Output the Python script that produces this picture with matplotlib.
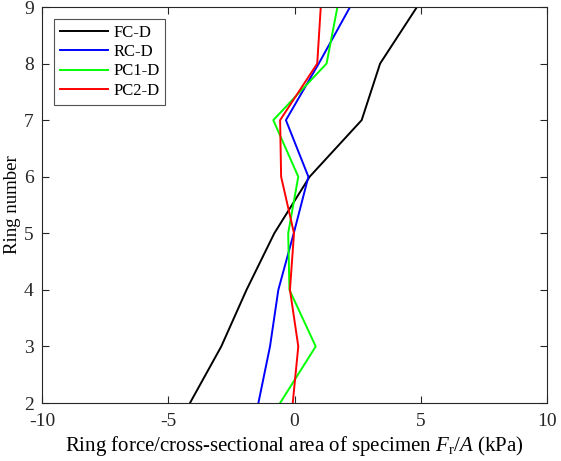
import matplotlib
matplotlib.use("Agg")
import matplotlib.pyplot as plt

plt.rcParams['font.family'] = ['Liberation Serif', 'DejaVu Serif']
plt.rcParams['mathtext.fontset'] = 'custom'
plt.rcParams['mathtext.rm'] = 'Liberation Serif'
plt.rcParams['mathtext.it'] = 'Liberation Serif:italic'
plt.rcParams['axes.unicode_minus'] = False

rings = [2, 3, 4, 5, 6, 7, 8, 9]
fc_d = [-4.14, -2.9, -1.9, -0.8, 0.6, 2.66, 3.39, 4.85]
rc_d = [-1.43, -0.97, -0.64, -0.03, 0.55, -0.34, 0.96, 2.2]
pc1_d = [-0.57, 0.84, -0.2, -0.25, 0.15, -0.84, 1.27, 1.7]
pc2_d = [-0.07, 0.15, -0.18, -0.02, -0.53, -0.57, 0.9, 1.04]

series = [("FC-D", fc_d, "black"), ("RC-D", rc_d, "#0000ff"),
          ("PC1-D", pc1_d, "#00ff00"), ("PC2-D", pc2_d, "#ff0000")]

fig = plt.figure(figsize=(5.61, 4.61), dpi=100)
ax = fig.add_axes([42/561, 1-403/461, (547-42)/561, (403-7)/461])
for name, vals, c in series:
    ax.plot(vals, rings, color=c, lw=1.4, label=name)

ax.set_xlim(-10, 10)
ax.set_ylim(2, 9)
ax.set_xticks([-10, -5, 0, 5, 10])
ax.set_yticks(range(2, 10))
ax.tick_params(direction='in', top=True, right=True, labelsize=14, length=5,
               width=0.8, colors='#262626')
ax.tick_params(axis='x', pad=7)
ax.tick_params(axis='y', pad=6)
for s in ax.spines.values():
    s.set_color('#262626')
    s.set_linewidth(0.8)
ax.set_xlabel(r"Ring force/cross-sectional area of specimen $F_\mathrm{r}/A$ (kPa)",
              fontsize=15, labelpad=3)
ax.set_ylabel("Ring number", fontsize=13.5)
ax.yaxis.set_label_coords(-21/505, 0.5)
leg = ax.legend(loc='upper left', bbox_to_anchor=(0.024, 0.97), fontsize=12,
                frameon=True, fancybox=False, edgecolor='#262626', borderaxespad=0.0,
                handlelength=2.9, handletextpad=0.3, labelspacing=0.2, borderpad=0.35)
leg.get_frame().set_linewidth(0.8)
fig.savefig("out.png", dpi=100)
